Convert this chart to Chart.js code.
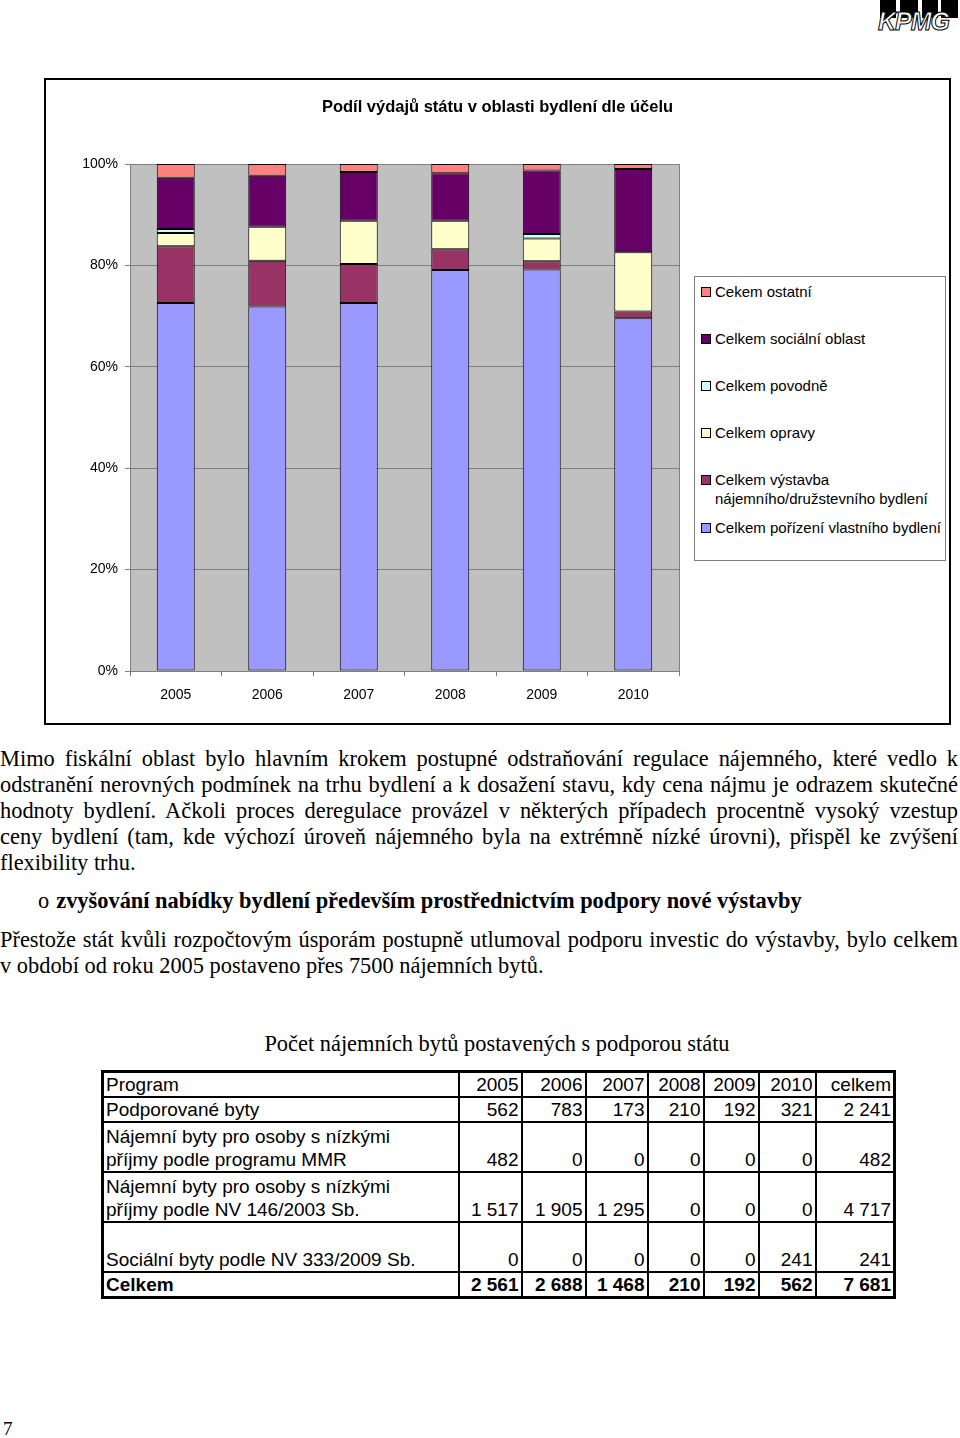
<!DOCTYPE html>
<html lang="cs">
<head>
<meta charset="utf-8">
<title>Podíl výdajů státu v oblasti bydlení</title>
<script src="https://cdn.jsdelivr.net/npm/chart.js@4.4.1/dist/chart.umd.min.js"></script>
<style>
  body { margin: 0; width: 960px; height: 1438px; position: relative; overflow: hidden; background: #fff;
         font-family: "Liberation Serif", "Times New Roman", serif; color: #000; }
  #logo { position: absolute; left: 878px; top: 0; width: 82px; height: 32px; }
  #logo .blk { position: absolute; top: 0; height: 18px; background: #000; }
  #logo span { position: absolute; left: 0; top: 7px; font: italic bold 25px "Liberation Sans", Arial, sans-serif;
               color: #fff; -webkit-text-stroke: 1px #000; letter-spacing: -1px; }
  #frame { position: absolute; left: 44px; top: 78px; width: 903px; height: 643px; border: 2px solid #000; }
  #chart { position: absolute; left: 0; top: 0; }
  #ctitle { position: absolute; left: 0; top: 16px; width: 903px; text-align: center;
            font: bold 16.5px "Liberation Sans", Arial, sans-serif; line-height: 20px; }
  #legend { position: absolute; left: 648px; top: 196px; width: 250px; height: 283px; border: 1px solid #808080;
            background: #fff; font: 15px "Liberation Sans", Arial, sans-serif; }
  #legend .item { position: absolute; left: 6px; line-height: 19px; padding-left: 14px; white-space: nowrap; }
  #legend .sw { position: absolute; left: 0; top: 5px; width: 8px; height: 8px; border: 1px solid #000; }
  .para { position: absolute; left: 0; width: 958px; font-size: 22.4px; line-height: 26px; }
  .para div { text-align: justify; text-align-last: justify; white-space: nowrap; }
  .para div.last { text-align-last: left; }
  #bullet { position: absolute; left: 38px; top: 888px; font-size: 22.4px; font-weight: bold; line-height: 26px; white-space: nowrap; }
  #bullet .o { font-weight: normal; margin-right: 7px; }
  #ttitle { position: absolute; left: 0; width: 994px; top: 1031px; text-align: center; font-size: 22.4px; line-height: 26px; }
  table { position: absolute; left: 101px; top: 1070px; border-collapse: collapse; border: 3px solid #000;
          table-layout: fixed; width: 792px; font: 19px "Liberation Sans", Arial, sans-serif; }
  td { border: 2px solid #000; padding: 0 2px; line-height: 23px; vertical-align: bottom; text-align: right;
       white-space: nowrap; overflow: hidden; }
  td:first-child { text-align: left; }
  tr.two td { height: 48px; }
  tr.tot td { font-weight: bold; }
  #page { position: absolute; left: 3px; top: 1418px; font-size: 19px; }
</style>
</head>
<body>

<div id="logo">
  <div class="blk" style="left:2px;width:16px"></div>
  <div class="blk" style="left:22px;width:18px"></div>
  <div class="blk" style="left:44px;width:16px"></div>
  <div class="blk" style="left:63px;width:17px"></div>
  <span>KPMG</span>
</div>

<div id="frame">
  <canvas id="chart" width="903" height="643"></canvas>
  <div id="ctitle">Podíl výdajů státu v oblasti bydlení dle účelu</div>
  <div id="legend"></div>
</div>

<div class="para" style="top:746px">
  <div>Mimo fiskální oblast bylo hlavním krokem postupné odstraňování regulace nájemného, které vedlo k</div>
  <div>odstranění nerovných podmínek na trhu bydlení a k dosažení stavu, kdy cena nájmu je odrazem skutečné</div>
  <div>hodnoty bydlení. Ačkoli proces deregulace provázel v některých případech procentně vysoký vzestup</div>
  <div>ceny bydlení (tam, kde výchozí úroveň nájemného byla na extrémně nízké úrovni), přispěl ke zvýšení</div>
  <div class="last">flexibility trhu.</div>
</div>

<div id="bullet"><span class="o">o</span>zvyšování nabídky bydlení především prostřednictvím podpory nové výstavby</div>

<div class="para" style="top:927px">
  <div>Přestože stát kvůli rozpočtovým úsporám postupně utlumoval podporu investic do výstavby, bylo celkem</div>
  <div class="last">v období od roku 2005 postaveno přes 7500 nájemních bytů.</div>
</div>

<div id="ttitle">Počet nájemních bytů postavených s podporou státu</div>

<table>
  <colgroup>
    <col style="width:356px"><col style="width:63px"><col style="width:64px"><col style="width:62px">
    <col style="width:56px"><col style="width:55px"><col style="width:57px"><col style="width:79px">
  </colgroup>
  <tr><td>Program</td><td>2005</td><td>2006</td><td>2007</td><td>2008</td><td>2009</td><td>2010</td><td>celkem</td></tr>
  <tr><td>Podporované byty</td><td>562</td><td>783</td><td>173</td><td>210</td><td>192</td><td>321</td><td>2 241</td></tr>
  <tr class="two"><td>Nájemní byty pro osoby s nízkými<br>příjmy podle programu MMR</td><td>482</td><td>0</td><td>0</td><td>0</td><td>0</td><td>0</td><td>482</td></tr>
  <tr class="two"><td>Nájemní byty pro osoby s nízkými<br>příjmy podle NV 146/2003 Sb.</td><td>1 517</td><td>1 905</td><td>1 295</td><td>0</td><td>0</td><td>0</td><td>4 717</td></tr>
  <tr class="two"><td><br>Sociální byty podle NV 333/2009 Sb.</td><td>0</td><td>0</td><td>0</td><td>0</td><td>0</td><td>241</td><td>241</td></tr>
  <tr class="tot"><td>Celkem</td><td>2 561</td><td>2 688</td><td>1 468</td><td>210</td><td>192</td><td>562</td><td>7 681</td></tr>
</table>

<div id="page">7</div>

<script>
// categories
const years = ['2005', '2006', '2007', '2008', '2009', '2010'];

// shares in % (bottom to top)
const porizeni = [72.6, 71.9, 72.6, 79.1, 79.2, 69.6];
const vystavba = [11.2, 9.0, 7.7, 4.1, 1.6, 1.3];
const opravy = [2.6, 6.7, 8.5, 5.6, 4.5, 11.7];
const povodne = [0.8, 0, 0, 0, 0.9, 0];
const socialni = [10.1, 10.1, 9.6, 9.4, 12.5, 16.4];
const ostatni = [2.7, 2.3, 1.6, 1.8, 1.3, 1.0];

// y tick labels
const yTicks = [0, 20, 40, 60, 80, 100];

const seriesNames = [
    'Celkem pořízení vlastního bydlení',
    'Celkem výstavba nájemního/družstevního bydlení',
    'Celkem opravy',
    'Celkem povodně',
    'Celkem sociální oblast',
    'Cekem ostatní'
];

// gray plot area like the old Excel chart
const plotBg = {
    id: 'plotBg',
    beforeDraw(chart) {
        const { ctx, chartArea: a } = chart;
        ctx.save();
        ctx.fillStyle = '#C0C0C0';
        ctx.fillRect(a.left, a.top, a.right - a.left, a.bottom - a.top);
        ctx.restore();
    },
    beforeDatasetsDraw(chart) {
        const { ctx, chartArea: a } = chart;
        ctx.save();
        ctx.strokeStyle = '#808080';
        ctx.lineWidth = 1;
        ctx.beginPath();
        ctx.moveTo(a.right + 0.5, a.top);
        ctx.lineTo(a.right + 0.5, a.bottom);
        ctx.stroke();
        ctx.restore();
    }
};

function ds(label, data, color) {
    return {
        label: label,
        data: data,
        backgroundColor: color,
        borderColor: '#000',
        borderWidth: 1,
        borderSkipped: false,
        categoryPercentage: 1,
        barPercentage: 0.415
    };
}

const chart = new Chart(document.getElementById('chart'), {
    type: 'bar',
    data: {
        labels: years,
        datasets: [
            ds(seriesNames[0], porizeni, '#9999FF'),
            ds(seriesNames[1], vystavba, '#993366'),
            ds(seriesNames[2], opravy, '#FFFFCC'),
            ds(seriesNames[3], povodne, '#CCFFFF'),
            ds(seriesNames[4], socialni, '#660066'),
            ds(seriesNames[5], ostatni, '#FF8080')
        ]
    },
    options: {
        responsive: false,
        animation: false,
        layout: { padding: { left: 0, right: 270, top: 84, bottom: 0 } },
        plugins: {
            legend: { display: false },
            tooltip: { enabled: false },
            title: { display: false }
        },
        scales: {
            x: {
                stacked: true,
                offset: true,
                grid: { drawOnChartArea: false, offset: true, tickLength: 5, color: '#808080' },
                border: { color: '#808080' },
                ticks: { color: '#000', padding: 11, font: { family: 'Liberation Sans', size: 14 } },
                afterFit(scale) { scale.height = 52; }
            },
            y: {
                stacked: true,
                min: 0,
                max: 100,
                afterBuildTicks(scale) { scale.ticks = yTicks.map(v => ({ value: v })); },
                grid: { color: '#808080', tickLength: 5 },
                border: { color: '#808080' },
                ticks: {
                    color: '#000',
                    padding: 7,
                    font: { family: 'Liberation Sans', size: 14 },
                    callback: v => v + '%'
                },
                afterFit(scale) { scale.width = 84; }
            }
        }
    },
    plugins: [plotBg]
});

// legend drawn as html, top to bottom in reverse stack order
const legendTops = [5, 52, 99, 146, 193, 241];
const legendBox = document.getElementById('legend');
chart.data.datasets.slice().reverse().forEach((d, i) => {
    const item = document.createElement('div');
    item.className = 'item';
    item.style.top = legendTops[i] + 'px';
    let text = d.label;
    if (text.indexOf('výstavba') >= 0) text = 'Celkem výstavba<br>nájemního/družstevního bydlení';
    item.innerHTML = `<span class="sw" style="background:${d.backgroundColor}"></span>${text}`;
    legendBox.appendChild(item);
});
</script>
</body>
</html>
